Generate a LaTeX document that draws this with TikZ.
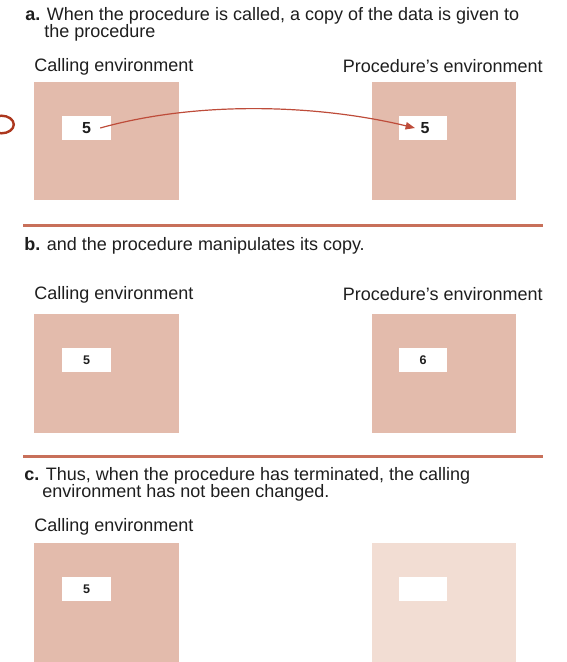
\documentclass[tikz,border=0pt]{standalone}
\usepackage{fontspec}
\setmainfont{Liberation Sans}
\usetikzlibrary{arrows.meta}
\definecolor{envfill}{RGB}{227,187,172}
\definecolor{envlight}{RGB}{242,221,211}
\definecolor{rulecol}{RGB}{200,112,90}
\definecolor{arrowcol}{RGB}{190,76,58}
\definecolor{markcol}{RGB}{172,55,30}
\definecolor{txtcol}{RGB}{30,30,30}
\tikzset{
  env/.style={fill=envfill},
  envpale/.style={fill=envlight},
  slot/.style={fill=white},
  txt/.style={anchor=base west, inner sep=0pt, text=txtcol, font=\fontsize{13.5}{16}\selectfont},
  bignum/.style={inner sep=0pt, text=txtcol, font=\fontsize{12}{14}\selectfont\bfseries},
  smallnum/.style={inner sep=0pt, text=txtcol, font=\fontsize{9.4}{11}\selectfont\bfseries},
  sepline/.style={draw=rulecol, line width=2.1pt},
  flow/.style={draw=arrowcol, line width=0.9pt, -{Triangle[length=7pt,width=5.5pt]}}
}
\begin{document}
\begin{tikzpicture}[x=0.75pt,y=-0.75pt]
\useasboundingbox (0,0) rectangle (567,662);
% partial mark at the left edge
\begin{scope}
  \clip (0,0) rectangle (567,662);
  \draw[markcol, line width=1.8pt] (1.5,124.5) ellipse [x radius=12.3, y radius=8.8];
\end{scope}
% ---- a ----
\node[txt] (ta1) at (25,20) {\textbf{a.} When the procedure is called, a copy of the data is given to};
\node[txt] (ta2) at (44,37) {the procedure};
\node[txt] (ca) at (34,71) {Calling environment};
\node[txt, anchor=base east] (pa) at (543,72.5) {Procedure’s environment};
\path[env] (34.3,81.7) rectangle (179,200);
\path[env] (371.7,81.7) rectangle (515.7,200);
\path[slot] (61.7,115.7) rectangle (110.7,140);
\path[slot] (399,115.7) rectangle (447.3,140);
\node[bignum] (na1) at (86.5,128) {5};
\node[bignum] (na2) at (425,128) {5};
\draw[flow] ([xshift=6.75pt]na1.east) .. controls (200,100) and (320,105) .. ([xshift=-4pt]na2.west);
\draw[sepline] (23,225.7) -- (543,225.7);
% ---- b ----
\node[txt] (tb) at (24,250) {\textbf{b.} and the procedure manipulates its copy.};
\node[txt] (cb) at (34,299) {Calling environment};
\node[txt, anchor=base east] (pb) at (543,300.5) {Procedure’s environment};
\path[env] (34.3,314.3) rectangle (179,432.6);
\path[env] (371.7,314.3) rectangle (515.7,432.6);
\path[slot] (61.7,348) rectangle (110.7,372.4);
\path[slot] (399,348) rectangle (447.3,372.4);
\node[smallnum] (nb1) at (86.5,360.2) {5};
\node[smallnum] (nb2) at (423,360.2) {6};
\draw[sepline] (23,456.7) -- (543,456.7);
% ---- c ----
\node[txt] (tc1) at (24,480) {\textbf{c.} Thus, when the procedure has terminated, the calling};
\node[txt] (tc2) at (42,497) {environment has not been changed.};
\node[txt] (cc) at (34,531) {Calling environment};
\path[env] (34.3,543) rectangle (179,662);
\path[envpale] (371.7,543) rectangle (515.7,662);
\path[slot] (61.7,577) rectangle (110.7,601.3);
\path[slot] (399,577) rectangle (447.3,601.3);
\node[smallnum] (nc1) at (86.5,589.2) {5};
\end{tikzpicture}
\end{document}
